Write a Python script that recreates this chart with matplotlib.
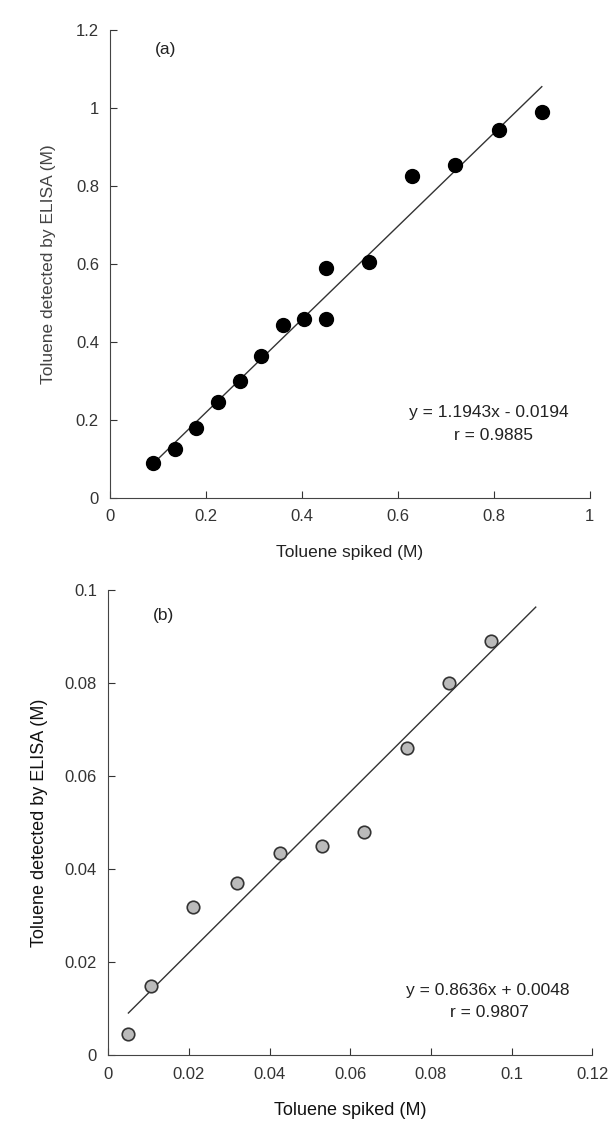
import numpy as np
import matplotlib
matplotlib.use("Agg")
import matplotlib.pyplot as plt

plt.rcParams['font.family'] = ['Liberation Sans', 'DejaVu Sans']

# Panel (a) data
a_spiked = [0.09, 0.135, 0.18, 0.225, 0.27, 0.315, 0.36, 0.405, 0.45, 0.45, 0.54, 0.63, 0.72, 0.81, 0.90]
a_elisa = [0.09, 0.125, 0.18, 0.245, 0.30, 0.365, 0.445, 0.46, 0.46, 0.59, 0.605, 0.825, 0.855, 0.945, 0.99]
a_slope, a_icpt = 1.1943, -0.0194
a_fit_range = [0.09, 0.90]

# Panel (b) data
b_spiked = [0.005, 0.0105, 0.021, 0.032, 0.0425, 0.053, 0.0635, 0.074, 0.0845, 0.095]
b_elisa = [0.0045, 0.015, 0.032, 0.037, 0.0435, 0.045, 0.048, 0.066, 0.080, 0.089]
b_slope, b_icpt = 0.8636, 0.0048
b_fit_range = [0.005, 0.106]

fig = plt.figure(figsize=(6.08, 11.24), dpi=100)

#------------ Panel (a) ------------
ax1 = fig.add_axes([0.181, 0.557, 0.789, 0.416])
ax1.plot(a_spiked, a_elisa, 'o', color='black', ms=10, zorder=3)
xf = np.array(a_fit_range)
ax1.plot(xf, a_slope * xf + a_icpt, color='#333333', lw=1)
ax1.set_xlim(0, 1)
ax1.set_ylim(0, 1.2)
ax1.set_xticks([0, 0.2, 0.4, 0.6, 0.8, 1])
ax1.set_xticklabels(['0', '0.2', '0.4', '0.6', '0.8', '1'])
ax1.set_yticks([0, 0.2, 0.4, 0.6, 0.8, 1, 1.2])
ax1.set_yticklabels(['0', '0.2', '0.4', '0.6', '0.8', '1', '1.2'])
ax1.set_xlabel('Toluene spiked (M)', fontsize=12.5, labelpad=15, color='#222222')
ax1.set_ylabel('Toluene detected by ELISA (M)', fontsize=12.5, labelpad=14, color='#444444')
ax1.text(0.115, 1.15, '(a)', fontsize=12.5, ha='center', va='center', color='#222222')
ax1.text(0.79, 0.22, 'y = 1.1943x - 0.0194', fontsize=12.5, ha='center', va='center', color='#222222')
ax1.text(0.80, 0.16, 'r = 0.9885', fontsize=12.5, ha='center', va='center', color='#222222')

#------------ Panel (b) ------------
ax2 = fig.add_axes([0.178, 0.061, 0.796, 0.414])
ax2.plot(b_spiked, b_elisa, 'o', mfc='#bbbbbb', mec='#333333', mew=1.2, ms=9, zorder=3)
xf = np.array(b_fit_range)
ax2.plot(xf, b_slope * xf + b_icpt, color='#333333', lw=1)
ax2.set_xlim(0, 0.12)
ax2.set_ylim(0, 0.1)
ax2.set_xticks([0, 0.02, 0.04, 0.06, 0.08, 0.1, 0.12])
ax2.set_xticklabels(['0', '0.02', '0.04', '0.06', '0.08', '0.1', '0.12'])
ax2.set_yticks([0, 0.02, 0.04, 0.06, 0.08, 0.1])
ax2.set_yticklabels(['0', '0.02', '0.04', '0.06', '0.08', '0.1'])
ax2.set_xlabel('Toluene spiked (M)', fontsize=13, labelpad=15, color='#111111')
ax2.set_ylabel('Toluene detected by ELISA (M)', fontsize=13, labelpad=12, color='#111111')
ax2.text(0.0136, 0.0946, '(b)', fontsize=12.5, ha='center', va='center', color='#222222')
ax2.text(0.0942, 0.0140, 'y = 0.8636x + 0.0048', fontsize=12.5, ha='center', va='center', color='#222222')
ax2.text(0.0945, 0.0093, 'r = 0.9807', fontsize=12.5, ha='center', va='center', color='#222222')

for ax in (ax1, ax2):
    ax.spines['top'].set_visible(False)
    ax.spines['right'].set_visible(False)
    ax.spines['left'].set_color('#444444')
    ax.spines['bottom'].set_color('#444444')
    ax.tick_params(direction='in', length=5, labelsize=12, colors='#333333', pad=8)

fig.savefig('out.png', dpi=100)
